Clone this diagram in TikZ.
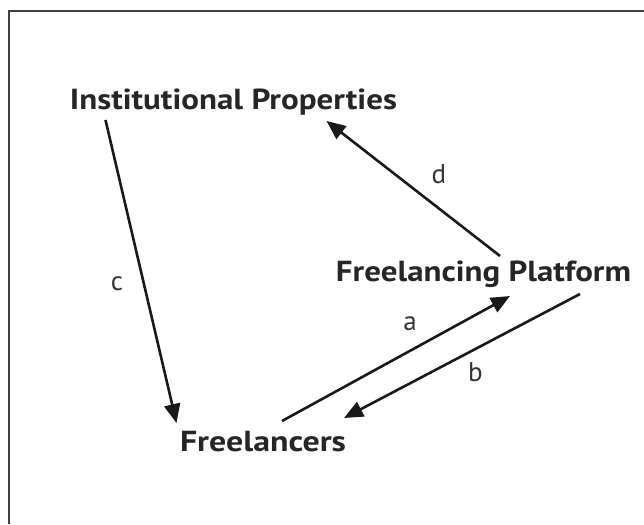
\documentclass[tikz,border=0pt]{standalone}
\usepackage{graphicx}
\usepackage{fontspec}
\setmainfont{PT Sans}
\usetikzlibrary{arrows.meta}
\tikzset{>={Triangle[width=16pt,length=19pt]}}
% stretch a term sideways to the width it has in the figure
\newcommand{\fitterm}[2]{\resizebox{#1}{\height}{#2}}

\begin{document}
\begin{tikzpicture}[
    x = 1pt, y = -1pt,
    term/.style = {font=\fontsize{29}{31}\selectfont\bfseries,
        text=black!85, inner sep=0pt, anchor=base},
    lbl/.style = {font=\fontsize{27}{29}\selectfont, text=black!80,
        inner sep=0pt},
    link/.style = {->, line width=2.6pt, draw=black!90}
  ]
  \useasboundingbox (0,0) rectangle (644,524);
  \draw[line width=1.4pt, black!75] (644,11) -- (9,11) -- (9,524);

  \node[term] (IP) at (233.5,109) {\fitterm{327pt}{Institutional Properties}};
  \node[term] (FP) at (483.5,281) {\fitterm{295pt}{Freelancing Platform}};
  \node[term] (FR) at (263,451) {\fitterm{166pt}{Freelancers}};

  \draw[link] ([xshift=-128pt,yshift=-11pt]IP.base) -- ([xshift=-86.5pt,yshift=28pt]FR.base);
  \draw[link] ([xshift=16.5pt,yshift=25pt]FP.base) -- ([xshift=93pt,yshift=-12pt]IP.base);
  \draw[link] ([xshift=19pt,yshift=30pt]FR.base) -- ([xshift=26.5pt,yshift=-15pt]FP.base);
  \draw[link] ([xshift=96.5pt,yshift=-13pt]FP.base) -- ([xshift=81pt,yshift=33pt]FR.base);

  \node[lbl] (LA) at (410,324) {a};
  \node[lbl] (LB) at (475.5,372.5) {b};
  \node[lbl] (LC) at (117,284) {c};
  \node[lbl] (LD) at (439,174.5) {d};
\end{tikzpicture}
\end{document}
